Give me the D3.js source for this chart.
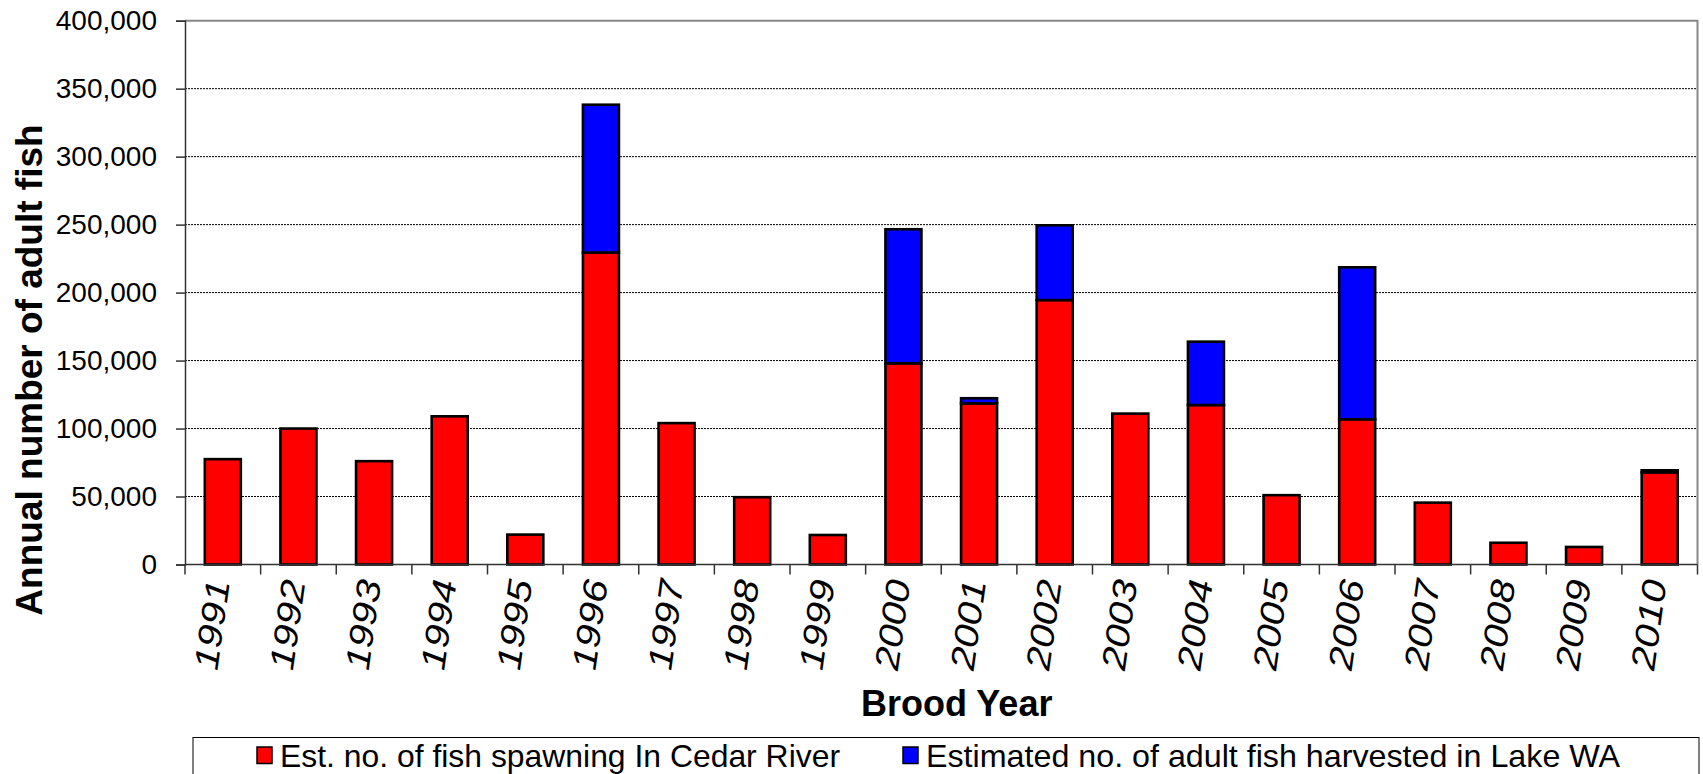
<!DOCTYPE html>
<html>
<head>
<meta charset="utf-8">
<script src="https://cdn.jsdelivr.net/npm/d3@7"></script>
<style>
  html, body { margin: 0; padding: 0; background: #fff; }
  svg { display: block; font-family: "Liberation Sans", Arial, sans-serif; }
</style>
</head>
<body>
<svg id="chart" width="1703" height="774"></svg>
<script>
// Brood years on the category axis
const years = ["1991","1992","1993","1994","1995","1996","1997","1998","1999","2000",
               "2001","2002","2003","2004","2005","2006","2007","2008","2009","2010"];

// Estimated number of fish spawning in the Cedar River
const spawning = [77500, 100000, 76000, 109000, 22000, 229500, 104000, 49500, 21700, 148000,
                  118500, 194500, 111000, 117300, 51000, 106800, 45500, 16000, 12900, 67800];

// Estimated number of adult fish harvested in Lake Washington
const harvested = [0, 0, 0, 0, 0, 108700, 0, 0, 0, 98600,
                   3800, 55000, 0, 46600, 0, 111800, 0, 0, 0, 1500];

const seriesNames = ["Est. no. of fish spawning In Cedar River",
                     "Estimated no. of adult fish harvested in Lake WA"];
const seriesColors = ["#FF0000", "#0000FF"];

const yTicks = [0, 50000, 100000, 150000, 200000, 250000, 300000, 350000, 400000];

const svg = d3.select("#chart");

const plot = { left: 185, right: 1697.5, top: 20.7, bottom: 564.5 };

const x = d3.scaleBand()
  .domain(years)
  .range([plot.left, plot.right])
  .paddingInner(0.524)
  .paddingOuter(0.262);

const y = d3.scaleLinear()
  .domain([0, 400000])
  .range([plot.bottom, plot.top]);

// Stack the two series
const rows = years.map((yr, i) => ({ year: yr, spawn: spawning[i], harvest: harvested[i] }));
const stack = d3.stack().keys(["spawn", "harvest"]);
const layers = stack(rows);

// Horizontal grid lines (dotted)
svg.append("g")
  .selectAll("line")
  .data(yTicks.filter(v => v > 0 && v < 400000))
  .join("line")
  .attr("x1", plot.left)
  .attr("x2", plot.right)
  .attr("y1", d => y(d))
  .attr("y2", d => y(d))
  .attr("stroke", "#000")
  .attr("stroke-width", 1)
  .attr("stroke-dasharray", "2,1");

// Top and right frame
svg.append("path")
  .attr("d", `M${plot.left},${y(400000)}H${plot.right}V${plot.bottom}`)
  .attr("fill", "none")
  .attr("stroke", "#888")
  .attr("stroke-width", 2);

// Bars
svg.append("g")
  .selectAll("g")
  .data(layers)
  .join("g")
  .attr("fill", (d, i) => seriesColors[i])
  .selectAll("rect")
  .data(d => d.filter(s => s[1] - s[0] > 0))
  .join("rect")
  .attr("x", d => x(d.data.year))
  .attr("width", x.bandwidth())
  .attr("y", d => y(d[1]))
  .attr("height", d => y(d[0]) - y(d[1]))
  .attr("stroke", "#000")
  .attr("stroke-width", 2.6);

// Y axis
const yAxis = svg.append("g")
  .attr("transform", `translate(${plot.left},0)`)
  .call(d3.axisLeft(y).tickValues(yTicks).tickFormat(d3.format(",")).tickSize(9).tickPadding(19));
yAxis.select(".domain").attr("stroke", "#333").attr("stroke-width", 1.5);
yAxis.selectAll(".tick line").attr("stroke", "#333").attr("stroke-width", 1.5);
yAxis.selectAll(".tick text")
  .attr("font-size", 28)
  .attr("font-family", "'Liberation Sans', Arial, sans-serif")
  .attr("fill", "#000");

// X axis line and ticks between categories
const step = x.step();
const boundaries = years.map(yr => x(yr) - step * x.paddingInner() / 2).concat([plot.right]);
svg.append("line")
  .attr("x1", plot.left).attr("x2", plot.right)
  .attr("y1", plot.bottom).attr("y2", plot.bottom)
  .attr("stroke", "#333").attr("stroke-width", 1.5);
svg.append("g")
  .selectAll("line")
  .data(boundaries)
  .join("line")
  .attr("x1", d => d).attr("x2", d => d)
  .attr("y1", plot.bottom).attr("y2", plot.bottom + 10)
  .attr("stroke", "#333").attr("stroke-width", 1.5);

// Rotated year labels (italic, slightly elongated along the reading direction)
svg.append("g")
  .selectAll("text")
  .data(years)
  .join("text")
  .attr("transform", d => `translate(${x(d) + x.bandwidth() / 2 + 7},${plot.bottom + 17}) rotate(-82) scale(1.2,1)`)
  .attr("text-anchor", "end")
  .attr("font-size", 34)
  .attr("font-style", "italic")
  .text(d => d);

// Axis titles
svg.append("text")
  .attr("transform", "translate(42,370) rotate(-90)")
  .attr("text-anchor", "middle")
  .attr("font-size", 37)
  .attr("font-weight", "bold")
  .text("Annual number of adult fish");

svg.append("text")
  .attr("x", 861)
  .attr("y", 716)
  .attr("font-size", 36)
  .attr("font-weight", "bold")
  .text("Brood Year");

// Legend
const legend = svg.append("g");
legend.append("rect")
  .attr("x", 193).attr("y", 737.5)
  .attr("width", 1506).attr("height", 60)
  .attr("fill", "#fff").attr("stroke", "#000").attr("stroke-width", 1);

const legendItems = [
  { swatch: 257, text: 280, len: 560 },
  { swatch: 903, text: 926, len: 694 }
];
legend.selectAll("g.item")
  .data(seriesNames)
  .join("g")
  .attr("class", "item")
  .each(function (name, i) {
    const g = d3.select(this);
    g.append("rect")
      .attr("x", legendItems[i].swatch).attr("y", 747)
      .attr("width", 15).attr("height", 16.5)
      .attr("fill", seriesColors[i]).attr("stroke", "#000").attr("stroke-width", 1.5);
    g.append("text")
      .attr("x", legendItems[i].text).attr("y", 767)
      .attr("font-size", 32)
      .attr("textLength", legendItems[i].len)
      .attr("lengthAdjust", "spacingAndGlyphs")
      .text(name);
  });
</script>
</body>
</html>
